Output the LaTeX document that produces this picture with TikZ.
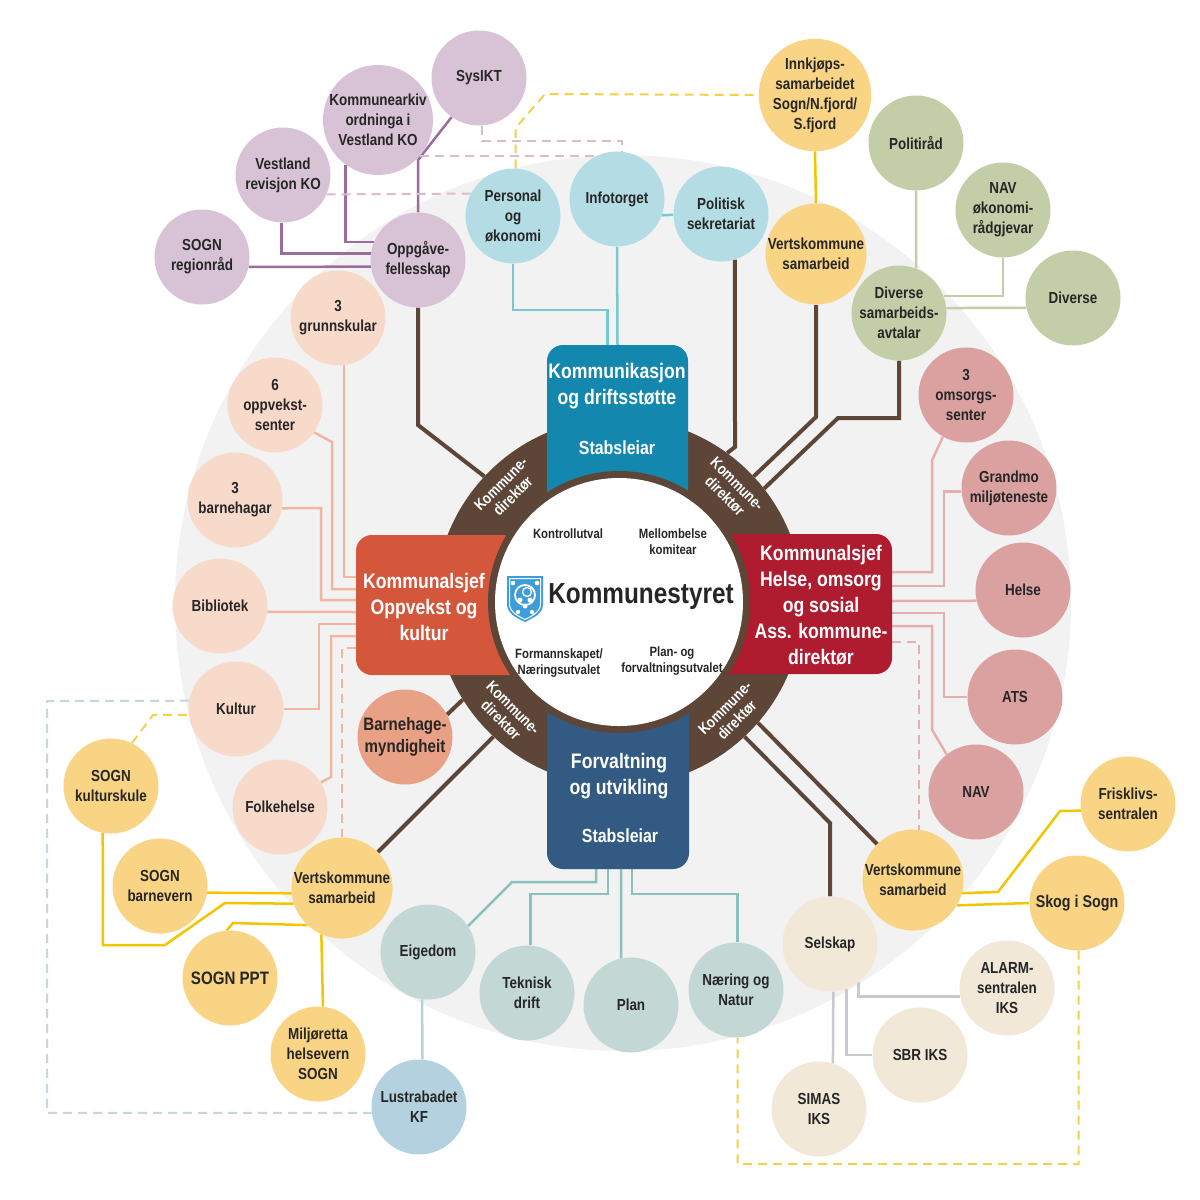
\documentclass[tikz,border=0pt]{standalone}
\usepackage{fontspec}
\setmainfont{Liberation Sans}[FakeStretch=0.84]
\pgfdeclarelayer{bgl}
\pgfdeclarelayer{lnl}
\pgfsetlayers{bgl,lnl,main}
\definecolor{cGrey}{HTML}{F2F2F2}
\definecolor{cTxt}{HTML}{262626}
\definecolor{cBrown}{HTML}{5D4637}
\definecolor{cKom}{HTML}{1487AE}
\definecolor{cOpp}{HTML}{D4573C}
\definecolor{cHel}{HTML}{AF1C2F}
\definecolor{cFor}{HTML}{325A82}
\definecolor{cLogo}{HTML}{3D9DDB}
\definecolor{cPur}{HTML}{D8C3D6}
\definecolor{cPurL}{HTML}{9A6E98}
\definecolor{cPurD}{HTML}{D8BCD4}
\definecolor{cBlu}{HTML}{B4DCE5}
\definecolor{cBluL}{HTML}{78C8D0}
\definecolor{cYel}{HTML}{F9D485}
\definecolor{cYelL}{HTML}{F3C500}
\definecolor{cYelD}{HTML}{F5D04A}
\definecolor{cGrn}{HTML}{C3CEA9}
\definecolor{cGrnL}{HTML}{C3CEA9}
\definecolor{cPnk}{HTML}{DBA1A1}
\definecolor{cPnkL}{HTML}{E6AFAF}
\definecolor{cPch}{HTML}{F8DACB}
\definecolor{cPchL}{HTML}{F1B79E}
\definecolor{cSal}{HTML}{E8A184}
\definecolor{cTea}{HTML}{C3D7D4}
\definecolor{cTeaL}{HTML}{8BC1BB}
\definecolor{cLus}{HTML}{B4D1DF}
\definecolor{cBei}{HTML}{F1E8D8}
\definecolor{cBeiL}{HTML}{C9C9CF}
\definecolor{cLusD}{HTML}{C5D6DD}
\begin{document}
\begin{tikzpicture}[x=1pt,y=-1pt,
 circ/.style={circle,minimum size=95pt,inner sep=0pt,align=center,text=cTxt,font=\fontsize{16}{20}\selectfont\bfseries},
 nPur/.style={circ,fill=cPur}, nBlu/.style={circ,fill=cBlu}, nYel/.style={circ,fill=cYel},
 nGrn/.style={circ,fill=cGrn}, nPnk/.style={circ,fill=cPnk}, nPch/.style={circ,fill=cPch},
 nSal/.style={circ,fill=cSal}, nTea/.style={circ,fill=cTea}, nLus/.style={circ,fill=cLus},
 nBei/.style={circ,fill=cBei},
 conn/.style={line width=2.5pt},
 brn/.style={line width=4pt,draw=cBrown},
 dsh/.style={line width=2pt,dash pattern=on 9pt off 6pt},
 boxt/.style={text=white,align=center,font=\fontsize{21}{26}\selectfont\bfseries},
 ringt/.style={text=white,align=center,font=\fontsize{15.5}{17}\selectfont\bfseries},
 innt/.style={text=cTxt,align=center,font=\fontsize{13.5}{16}\selectfont\bfseries},
 boxs/.style={rounded corners=16pt,inner sep=0pt}
]
\useasboundingbox (0,0) rectangle (1200,1200);
\begin{pgfonlayer}{bgl}
\fill[white] (0,0) rectangle (1200,1200);
\fill[cGrey] (623,603) circle[radius=448pt];
\end{pgfonlayer}

% central ring and boxes
\node[circle,fill=cBrown,minimum size=368pt,inner sep=0pt] (ring) at (619,602) {};
\node[boxs,fill=cKom,minimum width=141pt,minimum height=300pt] (kombox) at (617.5,495) {};
\node[boxs,fill=cOpp,minimum width=244pt,minimum height=140pt] (oppbox) at (478,605) {};
\node[boxs,fill=cHel,minimum width=252pt,minimum height=140pt] (helbox) at (766,604) {};
\node[boxs,fill=cFor,minimum width=142pt,minimum height=299pt] (forbox) at (618,719.5) {};
\fill[cBrown] (619,602) circle[radius=131pt];
\node[circle,fill=white,minimum size=248pt,inner sep=0pt] (kst) at (619,602) {};

% box texts
\node[boxt] (komt) at (617,386) {Kommunikasjon\\og driftsstøtte};
\node[boxt,font=\fontsize{19}{22}\selectfont\bfseries] (koms) at (617,448) {Stabsleiar};
\node[boxt] (oppt) at (424,607) {Kommunalsjef\\Oppvekst og\\kultur};
\node[boxt] (helt) at (821,605) {Kommunalsjef\\Helse, omsorg\\og sosial\\Ass. kommune-\\direktør};
\node[boxt] (fort) at (619,776) {Forvaltning\\og utvikling};
\node[boxt,font=\fontsize{19}{22}\selectfont\bfseries] (fors) at (620,836) {Stabsleiar};

% ring labels
\node[ringt,rotate=45] (r1) at (507,490) {Kommune-\\direktør};
\node[ringt,rotate=-45] (r2) at (731,490) {Kommune-\\direktør};
\node[ringt,rotate=-45] (r3) at (507,714) {Kommune-\\direktør};
\node[ringt,rotate=45] (r4) at (731,714) {Kommune-\\direktør};

% inner texts
\node[innt] (kontr) at (568,534) {Kontrollutval};
\node[innt] (mellom) at (673,542) {Mellombelse\\komitear};
\node[innt] (forman) at (559,663) {Formannskapet/\\Næringsutvalet};
\node[innt] (planu) at (672,661) {Plan- og\\forvaltningsutvalet};
\node[text=cTxt,font=\fontsize{29}{32}\selectfont\bfseries] (kstt) at (641,597) {Kommunestyret};

% logo
\begin{scope}[shift={(525,598)}]
\fill[cLogo] (-18,-22) -- (18,-22) -- (18,6) .. controls (18,16) and (8,20) .. (0,24) .. controls (-8,20) and (-18,16) .. (-18,6) -- cycle;
\draw[white,line width=1pt] (-15.5,-19.5) -- (15.5,-19.5) -- (15.5,6) .. controls (15.5,14) and (7,18) .. (0,21.5) .. controls (-7,18) and (-15.5,14) .. (-15.5,6) -- cycle;
\draw[white,line width=1.8pt] (0,-3) circle[radius=10pt];
\draw[white,line width=1.3pt] (2,-6) circle[radius=4.5pt];
\fill[white] (-5,2) circle[radius=2.5pt] (5,2) circle[radius=2.5pt] (0,8) circle[radius=2.5pt];
\fill[white] (-7,14) circle[radius=2.2pt] (7,14) circle[radius=2.2pt] (-12,-15) circle[radius=2.3pt] (12,-15) circle[radius=2.3pt];
\end{scope}

% circles: purple
\node[nPur] (sysikt) at (479,78) {SysIKT};
\node[nPur] (arkiv) at (378,120) {Kommunearkiv\\ordninga i\\Vestland KO};
\node[nPur] (rev) at (283,175) {Vestland\\revisjon KO};
\node[nPur] (region) at (202,257) {SOGN\\regionråd};
\node[nPur] (oppg) at (418,260) {Oppgåve-\\fellesskap};
% light blue
\node[nBlu] (pers) at (513,216) {Personal\\og\\økonomi};
\node[nBlu] (info) at (617,199) {Infotorget};
\node[nBlu] (polit) at (721,214) {Politisk\\sekretariat};
% yellow
\node[nYel] (innk) at (815,95) {Innkjøps-\\samarbeidet\\Sogn/N.fjord/\\S.fjord};
\node[nYel] (vkt) at (816,254) {Vertskommune\\samarbeid};
\node[nYel] (vkl) at (342,888) {Vertskommune\\samarbeid};
\node[nYel] (vkr) at (913,880) {Vertskommune\\samarbeid};
\node[nYel] (ks) at (111,786) {SOGN\\kulturskule};
\node[nYel] (barn) at (160,886) {SOGN\\barnevern};
\node[nYel,font=\fontsize{18}{21}\selectfont\bfseries] (ppt) at (230,978) {SOGN PPT};
\node[nYel] (milj) at (318,1054) {Miljøretta\\helsevern\\SOGN};
\node[nYel] (fr) at (1128,804) {Frisklivs-\\sentralen};
\node[nYel,font=\fontsize{17}{20}\selectfont\bfseries] (skog) at (1077,903) {Skog i Sogn};
% green
\node[nGrn] (politr) at (916,143) {Politiråd};
\node[nGrn] (navok) at (1003,210) {NAV\\økonomi-\\rådgjevar};
\node[nGrn] (div) at (1073,298) {Diverse};
\node[nGrn] (dsa) at (899,313) {Diverse\\samarbeids-\\avtalar};
% pink
\node[nPnk] (omsorg) at (966,395) {3\\omsorgs-\\senter};
\node[nPnk] (grandmo) at (1009,488) {Grandmo\\miljøteneste};
\node[nPnk] (helse) at (1023,590) {Helse};
\node[nPnk] (ats) at (1015,697) {ATS};
\node[nPnk] (nav) at (976,792) {NAV};
% peach
\node[nPch] (grunn) at (338,318) {3\\grunnskular};
\node[nPch] (oppv) at (275,405) {6\\oppvekst-\\senter};
\node[nPch] (bh) at (235,500) {3\\barnehagar};
\node[nPch] (bib) at (220,606) {Bibliotek};
\node[nPch] (kultur) at (236,709) {Kultur};
\node[nPch] (folke) at (280,807) {Folkehelse};
\node[nSal,font=\fontsize{18}{22}\selectfont\bfseries] (bhm) at (405,737) {Barnehage-\\myndigheit};
% teal
\node[nTea] (eig) at (428,952) {Eigedom};
\node[nTea] (tek) at (527,993) {Teknisk\\drift};
\node[nTea] (plan) at (631,1005) {Plan};
\node[nTea] (naer) at (736,990) {Næring og\\Natur};
\node[nLus] (lus) at (419,1107) {Lustrabadet\\KF};
% beige
\node[nBei] (selsk) at (830,944) {Selskap};
\node[nBei] (alarm) at (1007,988) {ALARM-\\sentralen\\IKS};
\node[nBei] (sbr) at (920,1055) {SBR IKS};
\node[nBei] (simas) at (819,1109) {SIMAS\\IKS};

\begin{pgfonlayer}{lnl}
% purple
\draw[conn,cPurL] (sysikt.235) -- (418,160) -- (oppg.north);
\draw[conn,cPurL] (arkiv.234) |- (oppg.158);
\draw[conn,cPurL] (rev.268) |- (oppg.172);
\draw[conn,cPurL] (region.-12) -- (oppg.188);
\draw[dsh,cPurD] (sysikt.274) -- ++(0,15) -| (info.84);
\draw[dsh,cPurD] (arkiv.-41) -| (info.101);
\draw[dsh,cPurD] (rev.-24) -- (pers.152);
% yellow dashed top
\draw[dsh,cYelD] (pers.87) -- (515.5,128) -- (545,94) -- (innk.west);
% teal top
\draw[conn,cBluL] (pers.south) |- (607.5,310) -- ([xshift=-10pt]kombox.north);
\draw[conn,cBluL] (info.south) -- (kombox.north);
\draw[conn,cBluL] (info.-20) -- (polit.181);
% brown
\draw[brn] (oppg.south) -- (418,425) -- (ring.137);
\draw[brn] (polit.-73) -- (735,447) -- (ring.54);
\draw[brn] (vkt.south) -- (816,417) -- (ring.43);
\draw[brn] (dsa.south) -- (899,418) -- (838,418) -- (ring.38);
\draw[brn] (bhm.28) -- (ring.212);
\draw[brn] (vkl.45) -- (ring.227);
\draw[brn] (ring.313) -- (830,823) -- (selsk.north);
\draw[brn] (ring.319) -- (vkr.135);
% green
\draw[conn,cGrnL] (politr.south) -- (dsa.69);
\draw[conn,cGrnL] (navok.south) |- (dsa.21);
\draw[conn,cGrnL] (dsa.6) -- (div.192);
% pink
\draw[conn,cPnkL] ([yshift=32pt]helbox.east) -- ++(40,0) -- ++(0,-112) -- (omsorg.241);
\draw[conn,cPnkL] ([yshift=18pt]helbox.east) -- ++(52,0) |- (grandmo.184);
\draw[conn,cPnkL] ([yshift=3pt]helbox.east) -- (helse.193);
\draw[conn,cPnkL] ([yshift=-9pt]helbox.east) -- ++(52,0) |- (ats.west);
\draw[conn,cPnkL] ([yshift=-22pt]helbox.east) -- ++(40,0) -- ++(0,104) -- (nav.128);
\draw[dsh,cPnkL] ([yshift=-38pt]helbox.east) -| (vkr.83);
% peach
\draw[conn,cPchL] (grunn.277) |- ([yshift=28pt]oppbox.west);
\draw[conn,cPchL] (oppv.-35) -- (332,442) |- ([yshift=16pt]oppbox.west);
\draw[conn,cPchL] (bh.-10) -- (321,508) |- ([yshift=5pt]oppbox.west);
\draw[conn,cPchL] (bib.-7) -- ([yshift=-7pt]oppbox.west);
\draw[conn,cPchL] ([yshift=-19pt]oppbox.west) -- (319,624) |- (kultur.east);
\draw[conn,cPchL] ([yshift=-31pt]oppbox.west) -- (331,636) -- (331,777) -- (folke.31);
\draw[dsh,cPchL] ([yshift=-43pt]oppbox.west) -| (vkl.north);
% teal bottom
\draw[conn,cTeaL] ([xshift=-22pt]forbox.south) -- ++(0,13) -- (512,882) -- (eig.33);
\draw[conn,cTeaL] ([xshift=-10pt]forbox.south) -- ++(0,25) -| (tek.86);
\draw[conn,cTeaL] ([xshift=3pt]forbox.south) -- (plan.102);
\draw[conn,cTeaL] ([xshift=14pt]forbox.south) -- ++(0,25) -| (naer.88);
\draw[conn,cLus] (eig.263) -- (lus.86);
% grey
\draw[conn,cBeiL] (selsk.-53) |- (alarm.190);
\draw[conn,cBeiL] (selsk.-70) |- (sbr.west);
\draw[conn,cBeiL] (selsk.-86) -- (simas.73);
% yellow
\draw[conn,cYelL] (innk.south) -- (vkt.north);
\draw[conn,cYelL] (barn.-8) -- (vkl.186);
\draw[conn,cYelL] (ks.260) -- (103,945) -- (165,945) -- (225,903) -- (vkl.198);
\draw[conn,cYelL] (ppt.94) -- (233,923) -- (vkl.227);
\draw[conn,cYelL] (vkl.246) -- (milj.84);
\draw[dsh,cYelD] (ks.64) -- (153,715) -- (kultur.187);
\draw[dsh,cLusD] (kultur.170) -- (47,701) |- (lus.187);
\draw[conn,cYelL] (vkr.-15) -- (998,892) -- (1060,811) -- (fr.188);
\draw[conn,cYelL] (vkr.-30) -- (skog.west);
\draw[dsh,cYelD] (skog.272) |- (737.7,1164) -- (naer.272);
\end{pgfonlayer}
\end{tikzpicture}
\end{document}
